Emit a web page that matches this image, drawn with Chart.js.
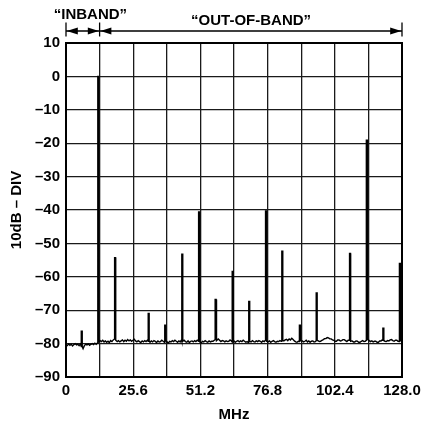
<!DOCTYPE html>
<html>
<head>
<meta charset="utf-8">
<script src="https://cdn.jsdelivr.net/npm/chart.js@4/dist/chart.umd.min.js"></script>
<style>
html,body{margin:0;padding:0;background:#fff;}
#c{display:block;}
</style>
</head>
<body>
<canvas id="c" width="421" height="424"></canvas>
<script>
// ---- data ----
const noiseStartMHz = 0;
const noiseStepMHz = 0.5;
const noiseFloor = [
 -80.3,-80.6,-80.1,-80.5,-80.2,-80.7,-80.3,-80.0,-80.4,-80.2,-80.6,-80.1,-80.9,-81.5,-80.6,-80.2,
 -80.4,-80.1,-80.5,-80.2,-80.0,-80.3,-79.9,-80.2,-79.8,-79.5,-79.1,-79.4,-79.0,-79.5,-79.2,-79.6,
 -79.3,-79.7,-79.1,-79.4,-78.9,-78.6,-79.0,-79.4,-79.1,-79.5,-79.2,-78.9,-79.4,-79.0,-79.3,-78.8,
 -79.2,-78.9,-79.3,-79.0,-78.7,-79.2,-79.5,-79.1,-79.4,-79.7,-79.2,-79.5,-79.1,-79.4,-79.0,-79.3,
 -79.6,-79.2,-79.5,-79.1,-79.3,-79.7,-79.2,-79.5,-79.4,-79.0,-79.3,-79.6,-79.2,-79.5,-79.8,-79.3,
 -79.5,-79.1,-79.4,-79.0,-79.3,-79.6,-79.2,-79.5,-78.9,-79.3,-79.0,-79.4,-79.6,-79.2,-79.7,-79.3,
 -79.2,-79.5,-79.1,-79.4,-79.0,-79.3,-79.5,-79.8,-79.3,-79.5,-79.1,-79.4,-79.6,-79.2,-79.5,-79.3,
 -79.3,-79.0,-78.8,-79.1,-78.6,-79.0,-79.4,-79.1,-79.2,-79.5,-79.2,-79.4,-79.3,-78.9,-79.2,-79.5,
 -79.2,-79.6,-79.3,-79.1,-79.5,-79.2,-79.4,-79.0,-79.3,-79.6,-79.4,-79.7,-79.3,-79.5,-79.1,-79.4,
 -79.5,-79.2,-79.4,-79.1,-79.3,-79.6,-79.2,-79.4,-79.0,-79.3,-79.5,-79.2,-79.6,-79.3,-79.1,-79.4,
 -79.6,-79.3,-79.4,-79.1,-79.3,-79.0,-79.2,-78.9,-78.7,-79.1,-78.6,-78.9,-78.4,-78.8,-79.2,-79.5,
 -79.6,-79.3,-79.4,-79.1,-79.2,-79.5,-79.3,-79.0,-79.5,-79.2,-79.6,-79.3,-79.2,-79.5,-79.4,-79.1,
 -79.1,-79.4,-79.3,-79.0,-78.8,-78.5,-78.5,-78.2,-78.3,-78.6,-78.6,-78.9,-79.0,-79.3,-79.3,-78.9,
 -78.9,-79.2,-79.1,-78.8,-78.8,-79.1,-79.4,-79.0,-79.0,-79.3,-79.2,-79.5,-79.5,-79.2,-79.3,-79.6,
 -79.6,-79.3,-79.1,-79.4,-79.3,-79.0,-78.7,-79.1,-79.4,-79.2,-79.5,-79.3,-79.3,-79.6,-79.6,-79.2,
 -79.2,-78.9,-79.0,-79.3,-79.4,-79.1,-79.2,-78.9,-78.8,-79.1,-79.3,-79.0,-79.0,-79.3,-79.4,-79.1,
 -79.2
];
const spikeFreqMHz = [6.0, 12.3, 18.7, 31.5, 37.8, 44.3, 50.7, 57.0, 63.5, 69.8, 76.2, 82.4, 89.1, 95.5, 108.2, 114.6, 120.9, 127.2];
const spikeLevelDB = [-76.3, 0, -54.3, -71, -74.5, -53.2, -40.6, -66.8, -58.4, -67.4, -40.3, -52.3, -74.5, -64.8, -53, -19.1, -75.4, -56];

const xTickValues = [0, 12.8, 25.6, 38.4, 51.2, 64, 76.8, 89.6, 102.4, 115.2, 128];
const xTickLabels = ['0', '', '25.6', '', '51.2', '', '76.8', '', '102.4', '', '128.0'];
const yTickValues = [10, 0, -10, -20, -30, -40, -50, -60, -70, -80, -90];
const yTickLabels = ['10', '0', '\u201310', '\u201320', '\u201330', '\u201340', '\u201350', '\u201360', '\u201370', '\u201380', '\u201390'];

const inbandEdgesMHz = [0, 12.8];
const outbandEdgesMHz = [12.8, 128];
const inbandLabel = '\u201CINBAND\u201D';
const outbandLabel = '\u201COUT-OF-BAND\u201D';

// ---- build trace ----
const HALF = 0.18;   // spike half-width in MHz (line drawn as narrow column)
const pts = [];
noiseFloor.forEach((v, i) => {
  const f = noiseStartMHz + i * noiseStepMHz;
  if (spikeFreqMHz.some(s => Math.abs(s - f) < HALF + 0.05)) return;
  pts.push({x: f, y: v});
});
spikeFreqMHz.forEach((f, i) => {
  const idx = Math.min(noiseFloor.length - 1, Math.round((f - noiseStartMHz) / noiseStepMHz));
  const foot = noiseFloor[idx];
  pts.push({x: f - HALF, y: foot});
  pts.push({x: f - HALF + 0.001, y: spikeLevelDB[i]});
  pts.push({x: f + HALF - 0.001, y: spikeLevelDB[i]});
  pts.push({x: f + HALF, y: foot});
});
pts.sort((a, b) => a.x - b.x);

const FONT = 'Liberation Sans, Arial, Helvetica, sans-serif';

const framePlugin = {
  id: 'frameAndBands',
  afterDraw(chart) {
    const ctx = chart.ctx;
    const a = chart.chartArea;
    const xs = chart.scales.x;
    ctx.save();
    ctx.strokeStyle = '#000';
    ctx.lineWidth = 2;
    ctx.strokeRect(a.left, a.top, a.right - a.left, a.bottom - a.top);

    const x0 = xs.getPixelForValue(inbandEdgesMHz[0]);
    const x1 = xs.getPixelForValue(inbandEdgesMHz[1]);
    const x2 = xs.getPixelForValue(outbandEdgesMHz[1]);
    const yLine = a.top - 12;
    ctx.lineWidth = 1.3;
    [x0, x1, x2].forEach(x => {
      ctx.beginPath();
      ctx.moveTo(x, yLine - 8.5);
      ctx.lineTo(x, yLine + 5.5);
      ctx.stroke();
    });
    ctx.beginPath();
    ctx.moveTo(x0, yLine); ctx.lineTo(x1, yLine);
    ctx.moveTo(x1, yLine); ctx.lineTo(x2, yLine);
    ctx.stroke();
    function head(tipX, dir) {
      const L = 11, H = 3.6;
      ctx.beginPath();
      ctx.moveTo(tipX, yLine);
      ctx.lineTo(tipX + dir * L, yLine - H);
      ctx.lineTo(tipX + dir * L, yLine + H);
      ctx.closePath();
      ctx.fill();
    }
    ctx.fillStyle = '#000';
    head(x0 + 0.8, 1);
    head(x1 - 0.8, -1);
    head(x1 + 0.8, 1);
    head(x2 - 0.8, -1);

    ctx.font = 'bold 15px ' + FONT;
    ctx.textAlign = 'center';
    ctx.textBaseline = 'alphabetic';
    ctx.fillText(inbandLabel, xs.getPixelForValue(9.3), 19);
    ctx.fillText(outbandLabel, xs.getPixelForValue(70.5), 25);
    ctx.restore();
  }
};

new Chart(document.getElementById('c'), {
  type: 'line',
  data: {
    datasets: [{
      data: pts,
      borderColor: '#000',
      borderWidth: 1.4,
      pointRadius: 0,
      tension: 0,
      fill: false
    }]
  },
  options: {
    responsive: false,
    animation: false,
    layout: {padding: {top: 43, right: 19, left: 0, bottom: 0}},
    plugins: {legend: {display: false}, tooltip: {enabled: false}},
    scales: {
      x: {
        type: 'linear',
        min: 0, max: 128,
        afterBuildTicks: s => { s.ticks = xTickValues.map(v => ({value: v})); },
        afterFit: s => { s.height = 47; s.paddingLeft = 0; s.paddingRight = 0; },
        grid: {color: '#1a1a1a', lineWidth: 1.3, drawTicks: false},
        border: {display: false},
        ticks: {
          autoSkip: false, maxRotation: 0, padding: 5,
          color: '#000', font: {family: FONT, size: 15, weight: 'bold'},
          callback: (v, i) => xTickLabels[i]
        },
        title: {display: true, text: 'MHz', color: '#000', padding: {top: 2.5, bottom: 0},
          font: {family: FONT, size: 15, weight: 'bold'}}
      },
      y: {
        type: 'linear',
        min: -90, max: 10,
        afterBuildTicks: s => { s.ticks = yTickValues.map(v => ({value: v})); },
        afterFit: s => { s.width = 66; s.paddingTop = 0; s.paddingBottom = 0; },
        grid: {color: '#1a1a1a', lineWidth: 1.3, drawTicks: false},
        border: {display: false},
        ticks: {
          autoSkip: false, padding: 6,
          color: '#000', font: {family: FONT, size: 15, weight: 'bold'},
          callback: (v, i) => yTickLabels[i]
        },
        title: {display: true, text: '10dB \u2013 DIV', color: '#000', padding: {top: 8, bottom: 0},
          font: {family: FONT, size: 15, weight: 'bold'}}
      }
    }
  },
  plugins: [framePlugin]
});
</script>
</body>
</html>
